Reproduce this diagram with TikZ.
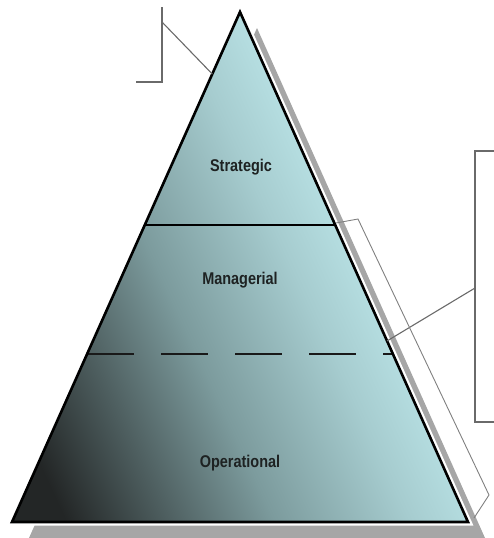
\documentclass[tikz,border=0pt]{standalone}
\usepackage{fontspec}
\setmainfont{Liberation Sans}
\usetikzlibrary{calc}
\definecolor{cdark}{HTML}{232626}
\definecolor{cdm}{HTML}{4F6061}
\definecolor{cmid}{HTML}{7C9B9D}
\definecolor{clm}{HTML}{A6CCCF}
\definecolor{clight}{HTML}{C6F1F4}
\definecolor{shadowgray}{HTML}{A6A6A6}
\definecolor{calloutgray}{HTML}{6A6A6A}
\definecolor{txt}{HTML}{1E2222}
\pgfdeclareverticalshading{pyrshade}{100bp}{color(0bp)=(cdark); color(22bp)=(cdark); color(32bp)=(cdm); color(42bp)=(cmid); color(55bp)=(clm); color(68bp)=(clight); color(100bp)=(clight)}
\begin{document}
\begin{tikzpicture}[x=1pt,y=-1pt,
  callout/.style={draw=calloutgray, line width=1.1pt},
  bracketline/.style={draw=calloutgray!85, line width=0.9pt, line join=round},
  level/.style={font=\bfseries\fontsize{17}{20}\selectfont, text=txt, xscale=0.85, inner sep=0pt}]
\useasboundingbox (0,0) rectangle (494,538);
\coordinate (A) at (240,12);
\coordinate (BL) at (12,522);
\coordinate (BR) at (468,522);
% shadow
\fill[shadowgray] ($(A)+(17,16)$) -- ($(BL)+(17,16)$) -- ($(BR)+(17,16)$) -- cycle;
% white rim
\draw[white, line width=7pt, line join=miter] (A) -- (BL) -- (BR) -- cycle;
% body
\shade[shading=pyrshade, shading angle=295]
  (A) -- (BL) -- (BR) -- cycle;
% divider lines
\coordinate (L1) at ($(A)!0.4176!(BL)$);
\coordinate (R1) at ($(A)!0.4176!(BR)$);
\coordinate (L2) at ($(A)!0.6706!(BL)$);
\coordinate (R2) at ($(A)!0.6706!(BR)$);
\draw[black, line width=2pt] (L1) -- (R1);
\draw[black!90, line width=2.6pt, dash pattern=on 47pt off 27pt] (L2) -- (R2);
% outline
\draw[black, line width=2.6pt, line join=miter] (A) -- (BL) -- (BR) -- cycle;
% labels
\node[level] (strat) at (241,167) {Strategic};
\node[level] (manag) at (240,280) {Managerial};
\node[level] (oper) at (240,463) {Operational};
% top-left callout
\coordinate (c1top) at (162,7);
\coordinate (c1bot) at (162,82);
\coordinate (c1end) at (136,82);
\coordinate (c1j) at (162,22);
\coordinate (c1t) at ($(A)!0.1216!(BL)$);
\draw[callout] (c1top) -- (c1bot) -- (c1end);
\draw[callout] (c1j) -- (c1t);
% right callout box
\coordinate (r1) at (494,151);
\coordinate (r2) at (475,151);
\coordinate (r3) at (475,422);
\coordinate (r4) at (494,422);
\coordinate (rj) at (475,288);
\coordinate (rt) at ($(A)!0.645!(BR)$);
\draw[callout] (r1) -- (r2) -- (r3) -- (r4);
\draw[callout] (rj) -- (rt);
% bracket along the right side
\coordinate (b1) at (336,223);
\coordinate (b2) at (358,219);
\coordinate (b3) at (489,495);
\coordinate (b4) at (474,518);
\draw[bracketline] (b1) -- (b2) -- (b3) -- (b4);
\end{tikzpicture}
\end{document}
